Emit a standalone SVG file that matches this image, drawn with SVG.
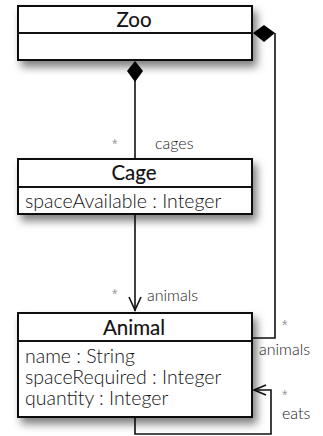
<svg xmlns="http://www.w3.org/2000/svg" width="323" height="436" viewBox="0 0 323 436">
  <style>
    .box { fill: #ffffff; stroke: #111111; stroke-width: 2; }
    .div { stroke: #111111; stroke-width: 2; }
    .title { font-family: "Lato", "Liberation Sans", sans-serif; font-size: 20.5px; font-weight: normal; fill: #111111; stroke: #111111; stroke-width: 0.15; text-anchor: middle; }
    .attr { font-family: "Lato", "Liberation Sans", sans-serif; font-size: 19.5px; font-weight: 300; fill: #111111; }
    .edge { fill: none; stroke: #111111; stroke-width: 1.6; }
    .lbl { font-family: "Lato", "Liberation Sans", sans-serif; font-size: 16px; font-weight: 300; fill: #1a1a1a; }
    .mult { font-family: "Liberation Sans", sans-serif; font-size: 14px; fill: #999999; }
    .diamond { fill: #000000; stroke: none; }
  </style>
  <defs>
    <filter id="shadow" x="-10%" y="-20%" width="130%" height="160%">
      <feDropShadow dx="4" dy="6" stdDeviation="4" flood-color="#000000" flood-opacity="0.5"/>
    </filter>
  </defs>

  <!-- connectors -->
  <g id="connectors">
    <!-- Zoo to Cage: cages -->
    <line class="edge" x1="135" y1="81" x2="135" y2="159"/>
    <path class="diamond" d="M135,61 L143,71 L135,82 L127,71 Z"/>
    <text class="mult" x="112" y="149">*</text>
    <text class="lbl" x="155" y="149">cages</text>

    <!-- Cage to Animal: animals -->
    <line class="edge" x1="135" y1="214" x2="135" y2="311"/>
    <path class="edge" d="M129,297 L135,310 L141,297"/>
    <text class="mult" x="112" y="299">*</text>
    <text class="lbl" x="147" y="301">animals</text>

    <!-- Zoo to Animal: animals -->
    <path class="edge" d="M275,33 L275,338 L252,338"/>
    <path class="diamond" d="M253,33 L264,25 L275,33 L264,42 Z"/>
    <text class="mult" x="282" y="330">*</text>
    <text class="lbl" x="259" y="355">animals</text>

    <!-- Animal to Animal: eats -->
    <path class="edge" d="M135,417 L135,434 L271,434 L271,390 L254,390"/>
    <path class="edge" d="M266,385 L254,390 L266,395"/>
    <text class="mult" x="282" y="400">*</text>
    <text class="lbl" x="282" y="419">eats</text>
  </g>

  <!-- Zoo -->
  <g id="zoo">
    <rect class="box" x="18" y="6" width="234" height="54" filter="url(#shadow)"/>
    <line class="div" x1="18" y1="33" x2="252" y2="33"/>
    <text class="title" x="134" y="27">Zoo</text>
  </g>

  <!-- Cage -->
  <g id="cage">
    <rect class="box" x="18" y="159" width="234" height="55" filter="url(#shadow)"/>
    <line class="div" x1="18" y1="187" x2="252" y2="187"/>
    <text class="title" x="134" y="180">Cage</text>
    <text class="attr" x="25" y="208">spaceAvailable : Integer</text>
  </g>

  <!-- Animal -->
  <g id="animal">
    <rect class="box" x="18" y="313" width="234" height="104" filter="url(#shadow)"/>
    <line class="div" x1="18" y1="341" x2="252" y2="341"/>
    <text class="title" x="134" y="335">Animal</text>
    <text class="attr" x="25" y="363">name : String</text>
    <text class="attr" x="25" y="384">spaceRequired : Integer</text>
    <text class="attr" x="25" y="405">quantity : Integer</text>
  </g>
</svg>
